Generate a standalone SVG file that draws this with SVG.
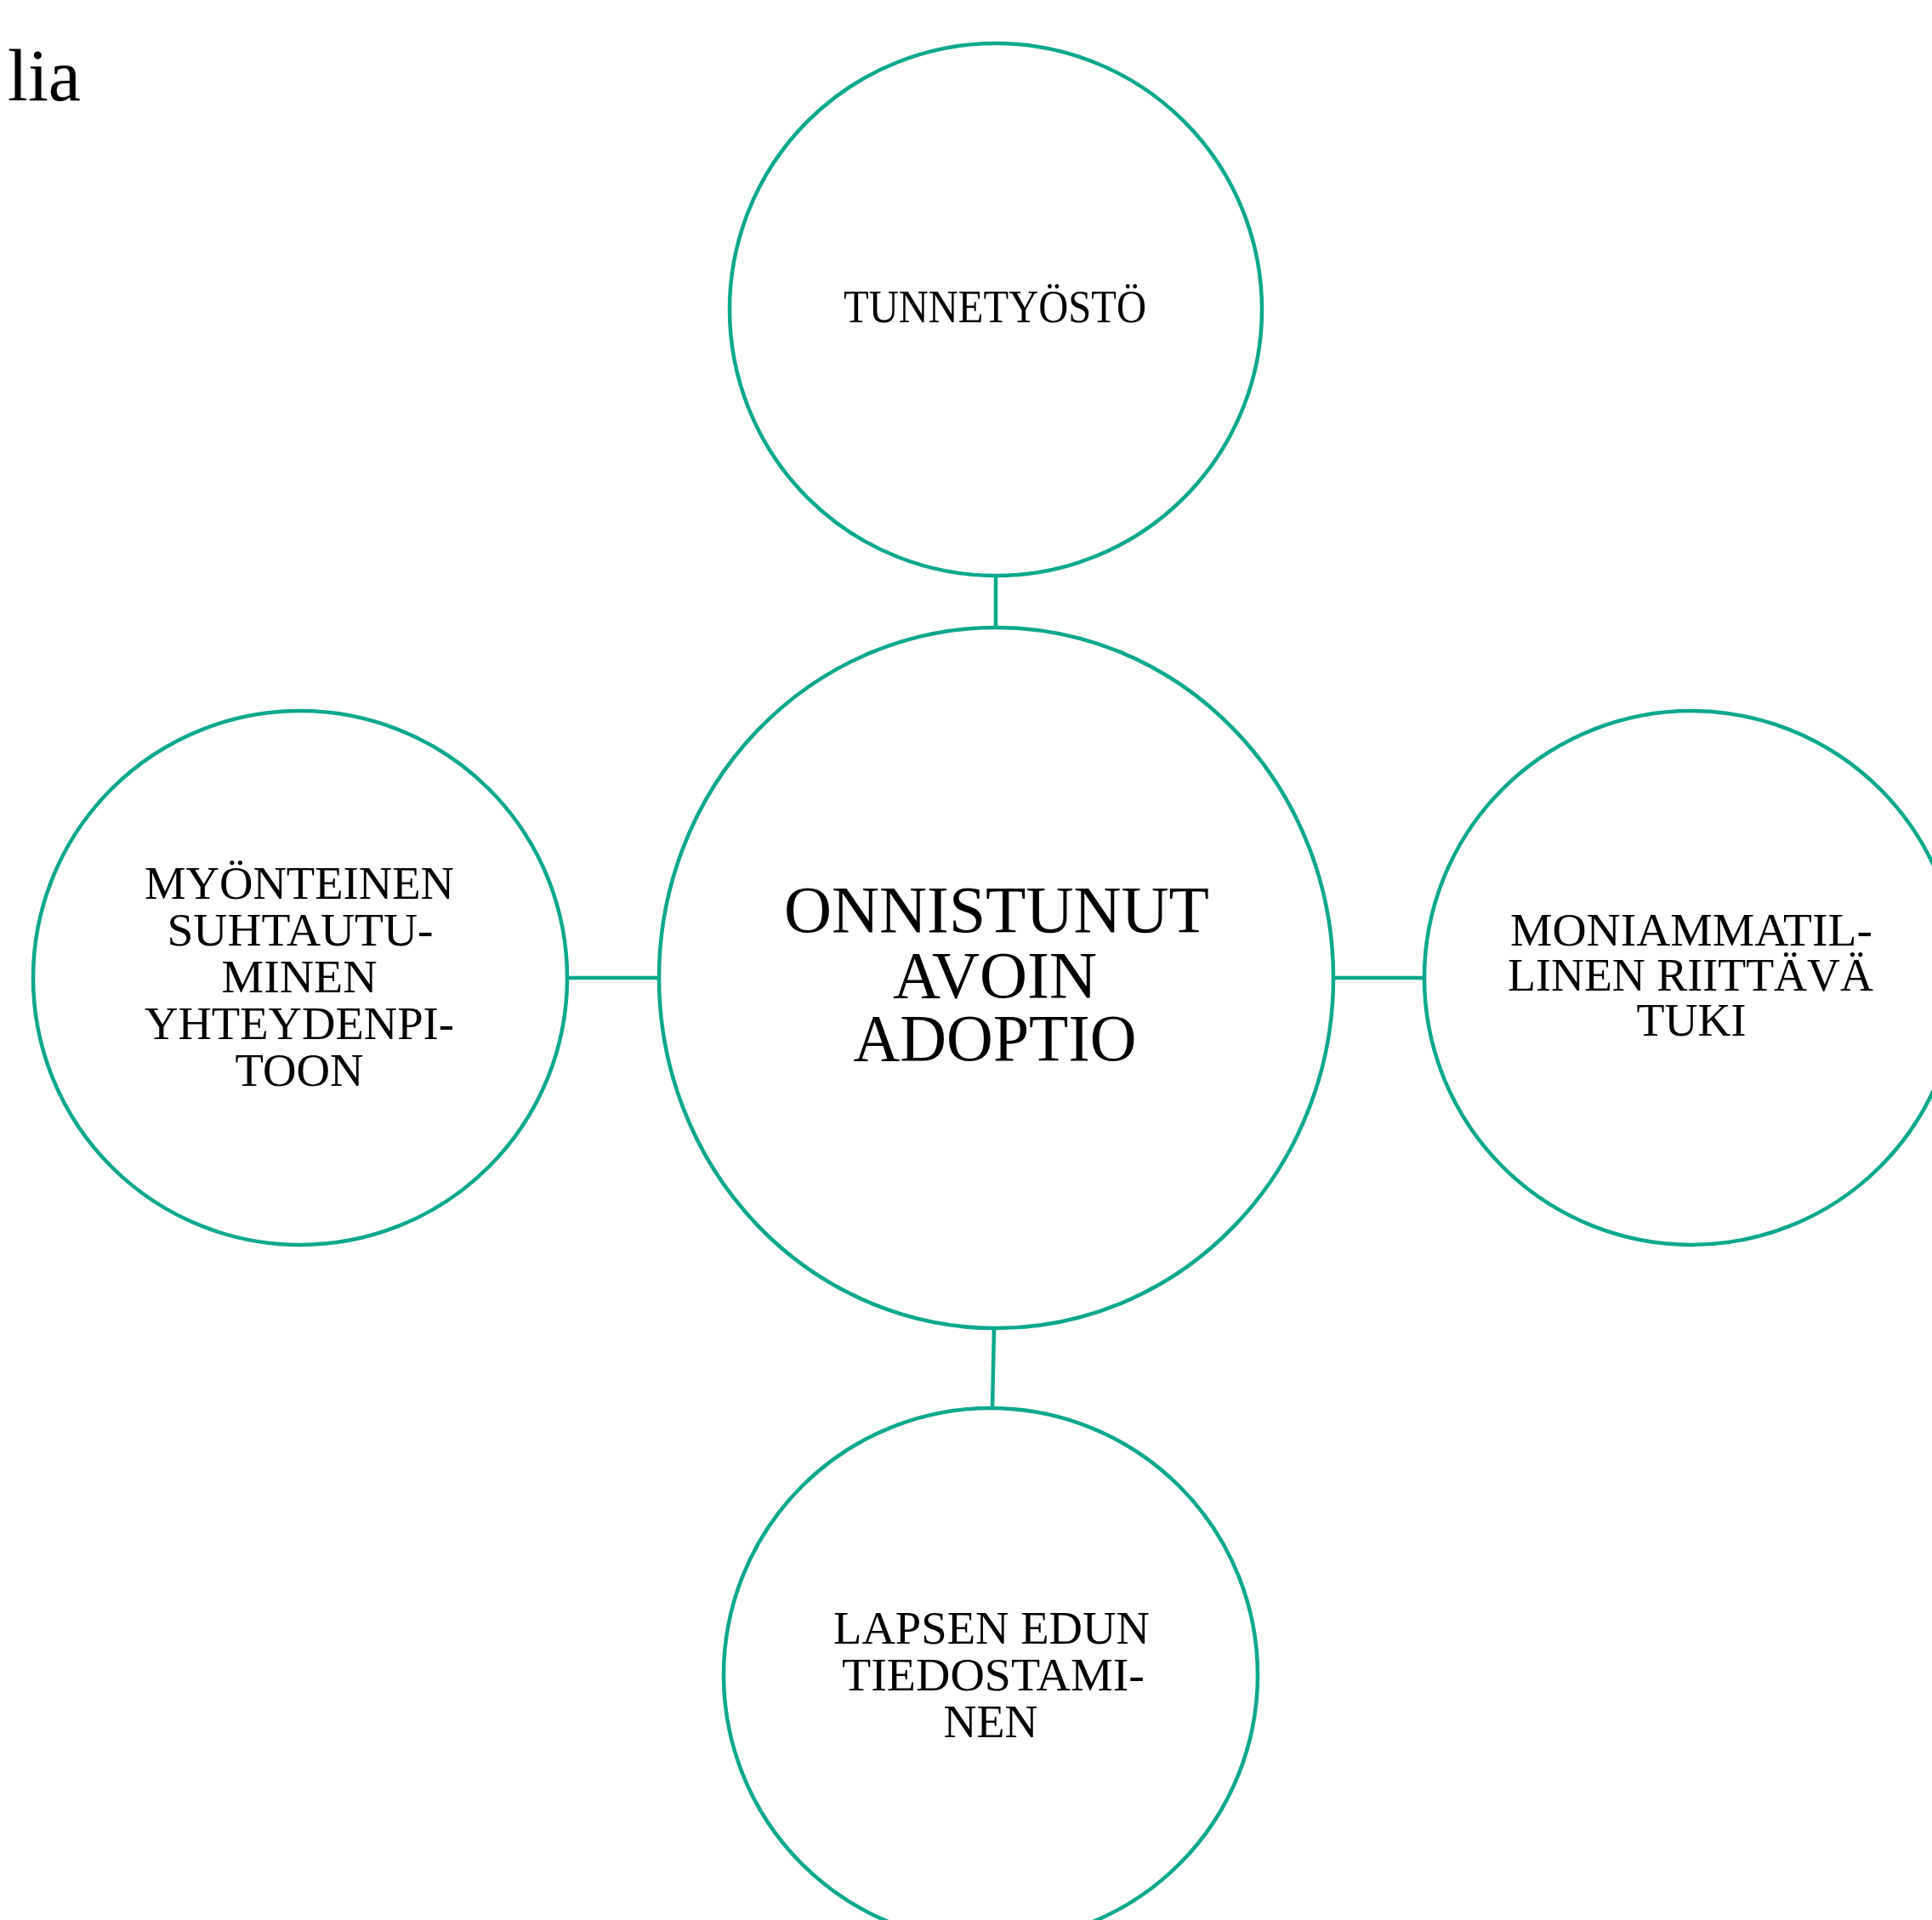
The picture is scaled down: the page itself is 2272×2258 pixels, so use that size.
<svg xmlns="http://www.w3.org/2000/svg" width="2272" height="2258" viewBox="0 0 2272 2258">
<style>
.node{fill:#FFFFFF;stroke:#0AA88C;stroke-width:4.5}
.conn{stroke:#0AA88C;stroke-width:4.5;fill:none}
.t{font-family:"Liberation Serif","Times New Roman",serif;fill:#000000;text-anchor:middle}
.s{font-size:54px}
.c{font-size:79px}
</style>
<rect width="2272" height="2258" fill="#FFFFFF"/>
<text x="9" y="118" font-family="Liberation Serif, serif" font-size="86" fill="#000">lia</text>
<g id="connectors">
<line class="conn" x1="1171" y1="677" x2="1171" y2="738"/>
<line class="conn" x1="667" y1="1150" x2="775" y2="1150"/>
<line class="conn" x1="1568" y1="1150" x2="1675" y2="1150"/>
<line class="conn" x1="1169" y1="1562" x2="1167" y2="1656"/>
</g>
<g id="node-top">
<circle class="node" cx="1171" cy="364" r="313"/>
<text class="t s" x="1170" y="379" textLength="356" lengthAdjust="spacingAndGlyphs">TUNNETYÖSTÖ</text>
</g>
<g id="node-center">
<ellipse class="node" cx="1171.5" cy="1150" rx="396.5" ry="412"/>
<text class="t c" x="1172" y="1096" textLength="500" lengthAdjust="spacingAndGlyphs">ONNISTUNUT</text>
<text class="t c" x="1170" y="1173" textLength="240" lengthAdjust="spacingAndGlyphs">AVOIN</text>
<text class="t c" x="1170" y="1247" textLength="333" lengthAdjust="spacingAndGlyphs">ADOPTIO</text>
</g>
<g id="node-left">
<circle class="node" cx="353" cy="1150" r="314"/>
<text class="t s" x="352" y="1057" textLength="364" lengthAdjust="spacingAndGlyphs">MYÖNTEINEN</text>
<text class="t s" x="353" y="1112" textLength="313" lengthAdjust="spacingAndGlyphs">SUHTAUTU-</text>
<text class="t s" x="352" y="1167" textLength="183" lengthAdjust="spacingAndGlyphs">MINEN</text>
<text class="t s" x="352" y="1222" textLength="364" lengthAdjust="spacingAndGlyphs">YHTEYDENPI-</text>
<text class="t s" x="352" y="1277" textLength="151" lengthAdjust="spacingAndGlyphs">TOON</text>
</g>
<g id="node-right">
<circle class="node" cx="1989" cy="1150" r="314"/>
<text class="t s" x="1989" y="1112" textLength="426" lengthAdjust="spacingAndGlyphs">MONIAMMATIL-</text>
<text class="t s" x="1988" y="1165" textLength="430" lengthAdjust="spacingAndGlyphs">LINEN RIITTÄVÄ</text>
<text class="t s" x="1989" y="1218">TUKI</text>
</g>
<g id="node-bottom">
<circle class="node" cx="1165" cy="1970" r="314"/>
<text class="t s" x="1166" y="1933" textLength="372" lengthAdjust="spacingAndGlyphs">LAPSEN EDUN</text>
<text class="t s" x="1168" y="1988" textLength="356" lengthAdjust="spacingAndGlyphs">TIEDOSTAMI-</text>
<text class="t s" x="1165" y="2043">NEN</text>
</g>
</svg>
